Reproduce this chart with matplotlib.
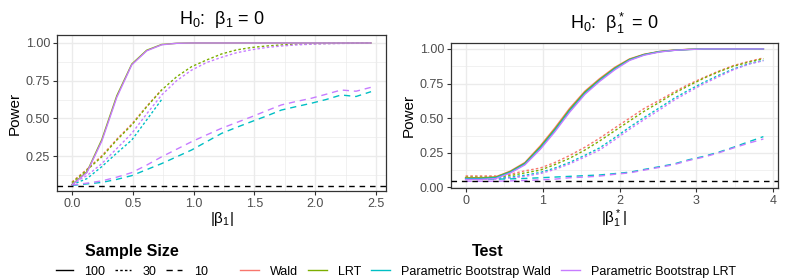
import matplotlib
matplotlib.use('Agg')
import matplotlib.pyplot as plt
from matplotlib.lines import Line2D

plt.rcParams['font.family'] = ['Liberation Sans', 'DejaVu Sans']
plt.rcParams['mathtext.default'] = 'regular'

# colours of the four tests (ggplot default hues)
cores = {'Wald': '#F8766D', 'LRT': '#7CAE00',
         'Parametric Bootstrap Wald': '#00BFC4',
         'Parametric Bootstrap LRT': '#C77CFF'}
estilos = {'100': '-', '30': (0, (1.8, 1.6)), '10': (0, (4.5, 3.5))}

# ---------------- left panel: H0: beta1 = 0 ----------------
beta1 = [0.0, 0.123, 0.246, 0.369, 0.492, 0.615, 0.738, 0.861, 0.984, 1.107, 1.23,
         1.353, 1.476, 1.599, 1.722, 1.845, 1.968, 2.091, 2.214, 2.337, 2.46]

esq_lrt_100 = [0.06, 0.145, 0.36, 0.65, 0.86, 0.952, 0.99, 0.998, 1.0, 1.0, 1.0,
               1.0, 1.0, 1.0, 1.0, 1.0, 1.0, 1.0, 1.0, 1.0, 1.0]
esq_pblrt_100 = [0.058, 0.14, 0.35, 0.64, 0.855, 0.948, 0.988, 0.998, 1.0, 1.0, 1.0,
                 1.0, 1.0, 1.0, 1.0, 1.0, 1.0, 1.0, 1.0, 1.0, 1.0]
esq_wald_30 = [0.078, 0.162, 0.252, 0.362, 0.462, 0.58, 0.69]
esq_lrt_30 = [0.073, 0.157, 0.245, 0.356, 0.456, 0.577, 0.688, 0.776, 0.843, 0.887, 0.927,
              0.954, 0.97, 0.98, 0.987, 0.992, 0.995, 0.997, 0.998, 0.999, 1.0]
esq_pbwald_30 = [0.06, 0.1, 0.18, 0.27, 0.356, 0.49, 0.625]
esq_pblrt_30 = [0.065, 0.12, 0.2, 0.3, 0.4, 0.53, 0.655, 0.75, 0.82, 0.87, 0.905,
                0.935, 0.955, 0.97, 0.98, 0.987, 0.992, 0.995, 0.997, 0.998, 0.999]
esq_pbwald_10 = [0.055, 0.065, 0.075, 0.095, 0.12, 0.16, 0.2, 0.245, 0.29, 0.345, 0.40,
                 0.44, 0.478, 0.515, 0.555, 0.578, 0.6, 0.625, 0.655, 0.645, 0.677]
esq_pblrt_10 = [0.058, 0.07, 0.085, 0.11, 0.14, 0.19, 0.245, 0.295, 0.345, 0.39, 0.434,
                0.472, 0.51, 0.55, 0.589, 0.612, 0.633, 0.66, 0.688, 0.68, 0.706]

# ---------------- right panel: H0: beta1* = 0 ----------------
beta1_star = [0.0, 0.19, 0.39, 0.58, 0.77, 0.97, 1.16, 1.35, 1.55, 1.74, 1.94,
              2.13, 2.32, 2.52, 2.71, 2.9, 3.1, 3.29, 3.48, 3.68, 3.87]

dir_wald_100 = [0.07, 0.07, 0.076, 0.118, 0.18, 0.3, 0.43, 0.57, 0.695, 0.785, 0.868,
                0.928, 0.962, 0.982, 0.992, 0.997, 1.0, 1.0, 1.0, 1.0, 1.0]
dir_lrt_100 = [0.068, 0.068, 0.074, 0.114, 0.175, 0.292, 0.42, 0.56, 0.688, 0.778, 0.862,
               0.925, 0.96, 0.981, 0.991, 0.997, 1.0, 1.0, 1.0, 1.0, 1.0]
dir_pbwald_100 = [0.064, 0.064, 0.07, 0.11, 0.17, 0.284, 0.412, 0.552, 0.68, 0.772, 0.857,
                  0.921, 0.958, 0.98, 0.99, 0.996, 1.0, 1.0, 1.0, 1.0, 1.0]
dir_pblrt_100 = [0.058, 0.058, 0.064, 0.104, 0.163, 0.275, 0.402, 0.542, 0.672, 0.765, 0.85,
                 0.917, 0.955, 0.978, 0.99, 0.996, 1.0, 1.0, 1.0, 1.0, 1.0]
dir_wald_30 = [0.083, 0.083, 0.083, 0.095, 0.12, 0.14, 0.18, 0.23, 0.29, 0.355, 0.43,
               0.50, 0.57, 0.63, 0.69, 0.745, 0.795, 0.84, 0.88, 0.91, 0.935]
dir_lrt_30 = [0.075, 0.075, 0.075, 0.085, 0.105, 0.125, 0.165, 0.21, 0.27, 0.335, 0.41,
              0.48, 0.55, 0.615, 0.68, 0.735, 0.79, 0.835, 0.875, 0.905, 0.93]
dir_pbwald_30 = [0.066, 0.066, 0.066, 0.074, 0.088, 0.108, 0.14, 0.18, 0.232, 0.285, 0.36,
                 0.435, 0.505, 0.575, 0.643, 0.703, 0.76, 0.81, 0.855, 0.893, 0.918]
dir_pblrt_30 = [0.06, 0.06, 0.06, 0.068, 0.08, 0.1, 0.13, 0.17, 0.22, 0.27, 0.345,
                0.42, 0.49, 0.56, 0.63, 0.69, 0.75, 0.8, 0.85, 0.89, 0.915]
dir_pbwald_10 = [0.06, 0.06, 0.06, 0.062, 0.065, 0.07, 0.075, 0.08, 0.085, 0.09, 0.1,
                 0.11, 0.13, 0.15, 0.17, 0.2, 0.225, 0.255, 0.29, 0.33, 0.367]
dir_pblrt_10 = [0.045, 0.045, 0.045, 0.047, 0.05, 0.055, 0.06, 0.07, 0.075, 0.082, 0.095,
                0.105, 0.125, 0.145, 0.165, 0.195, 0.22, 0.25, 0.285, 0.32, 0.35]

nivel = 0.05

curvas_esq = [
    ('Wald', '30', beta1[:len(esq_wald_30)], esq_wald_30),
    ('LRT', '30', beta1, esq_lrt_30),
    ('Parametric Bootstrap Wald', '30', beta1[:len(esq_pbwald_30)], esq_pbwald_30),
    ('Parametric Bootstrap LRT', '30', beta1, esq_pblrt_30),
    ('Parametric Bootstrap Wald', '10', beta1, esq_pbwald_10),
    ('Parametric Bootstrap LRT', '10', beta1, esq_pblrt_10),
    ('LRT', '100', beta1, esq_lrt_100),
    ('Parametric Bootstrap LRT', '100', beta1, esq_pblrt_100),
]
curvas_dir = [
    ('Wald', '30', beta1_star, dir_wald_30),
    ('LRT', '30', beta1_star, dir_lrt_30),
    ('Parametric Bootstrap Wald', '30', beta1_star, dir_pbwald_30),
    ('Parametric Bootstrap LRT', '30', beta1_star, dir_pblrt_30),
    ('Parametric Bootstrap Wald', '10', beta1_star, dir_pbwald_10),
    ('Parametric Bootstrap LRT', '10', beta1_star, dir_pblrt_10),
    ('Wald', '100', beta1_star, dir_wald_100),
    ('LRT', '100', beta1_star, dir_lrt_100),
    ('Parametric Bootstrap Wald', '100', beta1_star, dir_pbwald_100),
    ('Parametric Bootstrap LRT', '100', beta1_star, dir_pblrt_100),
]

fig = plt.figure(figsize=(7.89, 2.8), dpi=100)
ax1 = fig.add_axes([57 / 789, 1 - 191 / 280, 329 / 789, 156 / 280])
ax2 = fig.add_axes([451 / 789, 1 - 188 / 280, 327 / 789, 145 / 280])


def estilo_eixo(ax):
    ax.set_facecolor('white')
    ax.grid(True, which='major', color='#EBEBEB', lw=1.0, zorder=0)
    ax.grid(True, which='minor', color='#EBEBEB', lw=0.5, zorder=0)
    ax.set_axisbelow(True)
    for s in ax.spines.values():
        s.set_color('#333333')
        s.set_linewidth(0.9)
    ax.tick_params(which='major', length=3, width=0.8, color='#333333',
                   labelsize=9, labelcolor='#4D4D4D', pad=2)
    ax.tick_params(which='minor', length=0)
    ax.set_ylabel('Power', fontsize=11, labelpad=3)


for ax, curvas in [(ax1, curvas_esq), (ax2, curvas_dir)]:
    for teste, n, x, y in curvas:
        ax.plot(x, y, color=cores[teste], linestyle=estilos[n], lw=1.0, zorder=3)
    ax.axhline(nivel, color='black', lw=1.0, linestyle=(0, (4, 3.5)), zorder=4)
    estilo_eixo(ax)

ax1.set_xlim(-0.123, 2.583)
ax1.set_ylim(0.018, 1.053)
ax1.set_xticks([0.0, 0.5, 1.0, 1.5, 2.0, 2.5])
ax1.set_xticks([0.25, 0.75, 1.25, 1.75, 2.25], minor=True)
ax1.set_yticks([0.25, 0.5, 0.75, 1.0])
ax1.set_yticks([0.125, 0.375, 0.625, 0.875], minor=True)
ax1.set_yticklabels(['0.25', '0.50', '0.75', '1.00'])
ax1.set_xticklabels(['0.0', '0.5', '1.0', '1.5', '2.0', '2.5'])
ax1.set_xlabel('|β$_1$|', fontsize=11, labelpad=0)
ax1.set_title('H$_0$:  β$_1$ = 0', fontsize=13, pad=8)

ax2.set_xlim(-0.19, 4.06)
ax2.set_ylim(-0.004, 1.043)
ax2.set_xticks([0, 1, 2, 3, 4])
ax2.set_xticks([0.5, 1.5, 2.5, 3.5], minor=True)
ax2.set_yticks([0.0, 0.25, 0.5, 0.75, 1.0])
ax2.set_yticks([0.125, 0.375, 0.625, 0.875], minor=True)
ax2.set_yticklabels(['0.00', '0.25', '0.50', '0.75', '1.00'])
ax2.set_xlabel('|β$_1^*$|', fontsize=11, labelpad=0)
ax2.set_title('H$_0$:  β$_1^*$ = 0', fontsize=13, pad=10)

# legends
alcas_n = [Line2D([], [], color='black', lw=1.0, linestyle=estilos[k]) for k in ['100', '30', '10']]
leg1 = fig.legend(alcas_n, ['100', '30', '10'], title='Sample Size', ncol=3,
                  loc='center', bbox_to_anchor=(132 / 789, 0.068), frameon=False,
                  fontsize=9, handlelength=1.3, handletextpad=0.9, columnspacing=0.8,
                  borderpad=0.1)
leg1.get_title().set_fontweight('bold')
leg1.get_title().set_fontsize(11.5)

testes = list(cores.keys())
alcas_t = [Line2D([], [], color=cores[t], lw=1.0) for t in testes]
leg2 = fig.legend(alcas_t, testes, title='Test', ncol=4,
                  loc='center', bbox_to_anchor=(488 / 789, 0.068), frameon=False,
                  fontsize=9, handlelength=1.5, handletextpad=0.9, columnspacing=0.8,
                  borderpad=0.1)
leg2.get_title().set_fontweight('bold')
leg2.get_title().set_fontsize(11.5)

fig.savefig('out.png', dpi=100)
